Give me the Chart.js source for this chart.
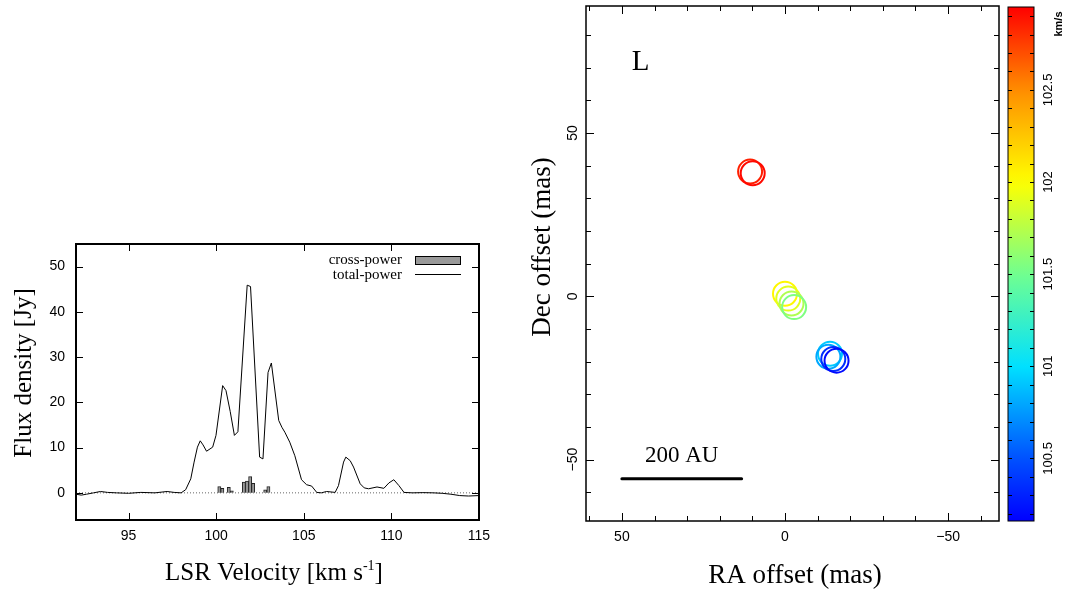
<!DOCTYPE html>
<html><head><meta charset="utf-8">
<script src="https://cdn.jsdelivr.net/npm/chart.js@4.4.0/dist/chart.umd.min.js"></script>
<style>
html,body{margin:0;padding:0;background:#fff;}
body{width:1068px;height:593px;position:relative;overflow:hidden;}
.box{position:absolute;}
canvas{display:block;}
</style></head><body>
<div class="box" style="left:0;top:236px;width:495px;height:357px"><canvas id="spec" width="495" height="357"></canvas></div>
<div class="box" style="left:500px;top:0;width:504px;height:593px"><canvas id="map" width="504" height="593"></canvas></div>
<div class="box" style="left:1000px;top:0;width:68px;height:593px"><canvas id="cbar" width="68" height="593"></canvas></div>
<script>
// ---------- Left panel: spectrum ----------
const totalVelocity = [92.0, 92.3, 92.6, 93.0, 93.4, 93.8, 94.3, 95.0, 95.7, 96.5, 97.2, 97.6, 98.0,
  98.26, 98.55, 98.74, 98.93, 99.09, 99.25, 99.45, 99.8, 99.99, 100.37, 100.56, 100.8, 101.04, 101.24,
  101.77, 101.96, 102.48, 102.67, 102.96, 103.15, 103.57, 103.75, 103.92, 104.2, 104.49, 104.87, 105.16,
  105.45, 105.74, 106.0, 106.3, 106.79, 106.98, 107.27, 107.4, 107.65, 107.84, 108.22, 108.45, 108.7,
  109.18, 109.57, 109.86, 110.14, 110.43, 110.72, 111.2, 111.8, 112.4, 112.9, 113.4, 113.9, 114.4, 115.0];
const totalFlux = [-0.3, -0.5, -0.3, 0.0, 0.3, 0.1, 0.0, -0.1, 0.1, 0.0, 0.3, 0.1, 0.0,
  0.7, 3.1, 6.8, 10.1, 11.5, 10.6, 9.2, 10.1, 12.7, 23.7, 22.6, 18.0, 12.7, 13.5,
  45.9, 45.6, 7.9, 7.5, 26.6, 28.7, 16.0, 14.5, 13.4, 11.2, 8.2, 2.9, 1.8,
  1.5, 0.1, 0.0, 0.3, 0.1, 1.6, 6.8, 7.9, 7.1, 5.7, 2.0, 1.1, 0.9,
  1.3, 1.0, 2.2, 2.9, 1.6, 0.1, 0.0, 0.05, 0.0, -0.1, -0.3, -0.6, -0.7, -0.6];
const crossVelocity = [100.18, 100.35, 100.72, 100.89, 101.58, 101.76, 101.94, 102.11, 102.80, 102.98];
const crossFlux = [1.4, 1.0, 1.2, 0.45, 2.4, 2.6, 3.6, 2.1, 0.65, 1.4];
const specXTicks = [95, 100, 105, 110, 115];
const specYTicks = [0, 10, 20, 30, 40, 50];
const specXRange = [92, 115];
const specYRange = [-6, 55];
const specLegend = ['cross-power', 'total-power'];

// ---------- Right panel: maser spot map ----------
const spotRA = [10.7, 9.9, 0.0, -1.0, -2.0, -2.8, -13.8, -13.3, -14.8, -15.8];
const spotDec = [38.2, 37.7, 0.8, -0.7, -2.2, -3.3, -17.6, -18.5, -19.2, -19.7];
const spotVelocity = [102.85, 102.92, 102.03, 101.9, 101.72, 101.55, 100.92, 100.8, 100.35, 100.2];
const mapXTicks = [-50, 0, 50];
const mapYTicks = [-50, 0, 50];
const mapXRange = [-65.6, 61];
const mapYRange = [-68.8, 88.9];
const scaleBarRA = [50, 13.3];
const scaleBarDec = [-55.9, -55.9];
const scaleBarLabel = '200 AU';
const panelLabel = 'L';
const cbarTicks = [100.5, 101, 101.5, 102, 102.5];
const cbarRange = [100.16, 102.95];
const cbarUnit = 'km/s';

// ---------- helpers ----------
const SERIF = '"Liberation Serif", "Times New Roman", serif';
const SANS = '"Liberation Sans", Arial, sans-serif';
const cmapStops = [[0, [0, 0, 255]], [0.12, [0, 80, 255]], [0.30, [0, 224, 255]], [0.48, [112, 255, 144]],
  [0.66, [255, 255, 0]], [0.84, [255, 140, 0]], [1, [255, 0, 0]]];
function cmap(v) {
  let t = (v - cbarRange[0]) / (cbarRange[1] - cbarRange[0]);
  t = Math.max(0, Math.min(1, t));
  for (let i = 1; i < cmapStops.length; i++) {
    const [t1, c1] = cmapStops[i];
    const [t0, c0] = cmapStops[i - 1];
    if (t <= t1) {
      const f = (t - t0) / (t1 - t0);
      const c = c0.map((x, k) => Math.round(x + (c1[k] - x) * f));
      return `rgb(${c[0]},${c[1]},${c[2]})`;
    }
  }
  return 'rgb(255,0,0)';
}
const fmt = v => String(v).replace('-', '\u2212');
const setTicks = arr => s => { s.ticks = arr.map(v => ({ value: v })); };
const fitX = h => s => { s.height = h; s.paddingLeft = 0; s.paddingRight = 0; s.paddingTop = 0; s.paddingBottom = 0; };
const fitY = w => s => { s.width = w; s.paddingLeft = 0; s.paddingRight = 0; s.paddingTop = 0; s.paddingBottom = 0; };
function line(ctx, x1, y1, x2, y2) { ctx.beginPath(); ctx.moveTo(x1, y1); ctx.lineTo(x2, y2); ctx.stroke(); }
function inwardTicks(chart, xs, ys) {
  const { ctx, chartArea: a, scales } = chart;
  ctx.save(); ctx.strokeStyle = '#000'; ctx.lineWidth = 1;
  xs.forEach(([v, len]) => {
    const p = Math.round(scales.x.getPixelForValue(v)) + 0.5;
    line(ctx, p, a.bottom, p, a.bottom - len); line(ctx, p, a.top, p, a.top + len);
  });
  ys.forEach(([v, len]) => {
    const p = Math.round(scales.y.getPixelForValue(v)) + 0.5;
    line(ctx, a.left, p, a.left + len, p); line(ctx, a.right, p, a.right - len, p);
  });
  ctx.restore();
}
function frame(chart, w) {
  const { ctx, chartArea: a } = chart;
  ctx.save(); ctx.strokeStyle = '#000'; ctx.lineWidth = w;
  ctx.strokeRect(a.left, a.top, a.right - a.left, a.bottom - a.top);
  ctx.restore();
}
function rotText(ctx, text, x, y, font) {
  ctx.save(); ctx.translate(x, y); ctx.rotate(-Math.PI / 2);
  ctx.font = font; ctx.textAlign = 'center'; ctx.textBaseline = 'alphabetic'; ctx.fillStyle = '#000';
  ctx.fillText(text, 0, 0); ctx.restore();
}
const commonOpts = { responsive: false, animation: false, events: [],
  plugins: { legend: { display: false }, tooltip: { enabled: false } } };

// ---------- spectrum chart ----------
const specPlugin = {
  id: 'specDeco',
  afterDraw(chart) {
    const { ctx } = chart;
    inwardTicks(chart, specXTicks.map(v => [v, 7]), specYTicks.map(v => [v, 7]));
    frame(chart, 2);
    // legend
    ctx.save();
    ctx.font = '15px ' + SERIF; ctx.fillStyle = '#000'; ctx.textAlign = 'right'; ctx.textBaseline = 'middle';
    ctx.fillText(specLegend[0], 402, 24.5);
    ctx.fillText(specLegend[1], 402, 39.5);
    ctx.fillStyle = '#999'; ctx.fillRect(415.5, 20.5, 45, 8);
    ctx.strokeStyle = '#000'; ctx.lineWidth = 1; ctx.strokeRect(415.5, 20.5, 45, 8);
    line(ctx, 415, 38.5, 461, 38.5);
    // axis titles
    rotText(ctx, 'Flux density [Jy]', 31, 137, '25px ' + SERIF);
    const y = 344;
    const main = 'LSR Velocity [km s', sup = '-1', end = ']';
    ctx.font = '25px ' + SERIF; const w1 = ctx.measureText(main).width, w3 = ctx.measureText(end).width;
    ctx.font = '14px ' + SERIF; const w2 = ctx.measureText(sup).width;
    let x = 274 - (w1 + w2 + w3) / 2;
    ctx.textAlign = 'left'; ctx.textBaseline = 'alphabetic'; ctx.fillStyle = '#000';
    ctx.font = '25px ' + SERIF; ctx.fillText(main, x, y); x += w1;
    ctx.font = '14px ' + SERIF; ctx.fillText(sup, x, y - 10); x += w2;
    ctx.font = '25px ' + SERIF; ctx.fillText(end, x, y);
    ctx.restore();
  }
};
new Chart(document.getElementById('spec'), {
  type: 'scatter',
  data: { datasets: [
    { type: 'line', data: totalVelocity.map((v, i) => ({ x: v, y: totalFlux[i] })), borderColor: '#000',
      borderWidth: 1, pointRadius: 0, tension: 0, fill: false, order: 0 },
    { type: 'bar', data: crossVelocity.map((v, i) => ({ x: v, y: crossFlux[i] })), backgroundColor: '#999',
      borderColor: '#222', borderWidth: 1, barThickness: 3.2, order: 1 },
    { type: 'line', data: specXRange.map(v => ({ x: v, y: 0 })), borderColor: '#666', borderWidth: 1,
      borderDash: [1, 2], pointRadius: 0, order: 2 }
  ] },
  options: Object.assign({}, commonOpts, {
    layout: { autoPadding: false, padding: { left: 0, right: 16, top: 8, bottom: 0 } },
    scales: {
      x: { type: 'linear', offset: false, min: specXRange[0], max: specXRange[1], afterBuildTicks: setTicks(specXTicks),
        afterFit: fitX(73), grid: { display: false, drawTicks: false, offset: false }, border: { display: false },
        ticks: { font: { family: SANS, size: 14 }, color: '#000', padding: 8, maxRotation: 0, callback: fmt } },
      y: { type: 'linear', min: specYRange[0], max: specYRange[1], afterBuildTicks: setTicks(specYTicks),
        afterFit: fitY(76), grid: { display: false, drawTicks: false }, border: { display: false },
        ticks: { font: { family: SANS, size: 14 }, color: '#000', padding: 11, callback: fmt } }
    }
  }),
  plugins: [specPlugin]
});

// ---------- map chart ----------
const minorRange = (lo, hi) => { const out = []; for (let v = Math.ceil(lo / 10) * 10; v <= hi; v += 10) out.push(v); return out; };
const mapPlugin = {
  id: 'mapDeco',
  afterDraw(chart) {
    const { ctx, scales } = chart;
    const tk = v => [v, v % 50 === 0 ? 8 : 5];
    inwardTicks(chart, minorRange(mapXRange[0], mapXRange[1]).map(tk), minorRange(mapYRange[0], mapYRange[1]).map(tk));
    frame(chart, 1.5);
    ctx.save(); ctx.fillStyle = '#000'; ctx.textBaseline = 'alphabetic';
    ctx.font = '29px ' + SERIF; ctx.textAlign = 'left';
    ctx.fillText(panelLabel, scales.x.getPixelForValue(47.0), scales.y.getPixelForValue(69.4));
    ctx.font = '23px ' + SERIF; ctx.textAlign = 'center';
    ctx.fillText(scaleBarLabel, scales.x.getPixelForValue((scaleBarRA[0] + scaleBarRA[1]) / 2), scales.y.getPixelForValue(-50.6));
    rotText(ctx, 'Dec offset (mas)', 50, 247, '27px ' + SERIF);
    ctx.font = '27px ' + SERIF; ctx.textAlign = 'center';
    ctx.fillText('RA offset (mas)', 295, 583);
    ctx.restore();
  }
};
new Chart(document.getElementById('map'), {
  type: 'scatter',
  data: { datasets: [
    { data: spotRA.map((v, i) => ({ x: v, y: spotDec[i] })), pointStyle: 'circle', pointRadius: 12,
      pointBorderWidth: 2, pointBackgroundColor: 'rgba(0,0,0,0)', pointBorderColor: spotVelocity.map(cmap) },
    { type: 'line', data: scaleBarRA.map((v, i) => ({ x: v, y: scaleBarDec[i] })), borderColor: '#000',
      borderWidth: 3, pointRadius: 0, borderCapStyle: 'round' }
  ] },
  options: Object.assign({}, commonOpts, {
    layout: { autoPadding: false, padding: { left: 0, right: 5, top: 6, bottom: 0 } },
    scales: {
      x: { type: 'linear', reverse: true, min: mapXRange[0], max: mapXRange[1], afterBuildTicks: setTicks(mapXTicks),
        afterFit: fitX(72), grid: { display: false, drawTicks: false }, border: { display: false },
        ticks: { font: { family: SANS, size: 14 }, color: '#000', padding: 8, maxRotation: 0, callback: fmt } },
      y: { type: 'linear', min: mapYRange[0], max: mapYRange[1], afterBuildTicks: setTicks(mapYTicks),
        afterFit: fitY(86), grid: { display: false, drawTicks: false }, border: { display: false },
        ticks: { font: { family: SANS, size: 14 }, color: '#000', padding: 1, minRotation: 90, maxRotation: 90,
          crossAlign: 'center', callback: fmt } }
    }
  }),
  plugins: [mapPlugin]
});

// ---------- colour bar ----------
const cbarPlugin = {
  id: 'cbarDeco',
  afterDraw(chart) {
    const { ctx, chartArea: a, scales } = chart;
    ctx.save(); ctx.strokeStyle = '#000'; ctx.lineWidth = 1;
    for (let k = Math.ceil(cbarRange[0] * 10); k <= Math.floor(cbarRange[1] * 10); k++) {
      const p = Math.round(scales.y.getPixelForValue(k / 10)) + 0.5;
      line(ctx, a.left, p, a.left + 4, p); line(ctx, a.right, p, a.right - 4, p);
    }
    ctx.restore();
    frame(chart, 1);
    ctx.save(); ctx.font = 'bold 11px ' + SANS; ctx.fillStyle = '#000';
    ctx.translate(62, 24); ctx.rotate(-Math.PI / 2); ctx.textAlign = 'center'; ctx.textBaseline = 'alphabetic';
    ctx.fillText(cbarUnit, 0, 0); ctx.restore();
  }
};
new Chart(document.getElementById('cbar'), {
  type: 'bar',
  data: { labels: [''], datasets: [{ data: [cbarRange], borderWidth: 0, barPercentage: 1, categoryPercentage: 1,
    backgroundColor: (c) => {
      const ch = c.chart; if (!ch.chartArea) return '#888';
      const y = ch.scales.y, y0 = y.getPixelForValue(cbarRange[0]), y1 = y.getPixelForValue(cbarRange[1]);
      const g = ch.ctx.createLinearGradient(0, y0, 0, y1);
      for (let i = 0; i <= 40; i++) { const v = cbarRange[0] + (cbarRange[1] - cbarRange[0]) * i / 40; g.addColorStop(i / 40, cmap(v)); }
      return g;
    } }] },
  options: Object.assign({}, commonOpts, {
    layout: { autoPadding: false, padding: { left: 8, right: 0, top: 7, bottom: 72 } },
    scales: {
      x: { display: false },
      y: { type: 'linear', position: 'right', min: cbarRange[0], max: cbarRange[1], afterBuildTicks: setTicks(cbarTicks),
        afterFit: fitY(34), grid: { display: false, drawTicks: false }, border: { display: false },
        ticks: { font: { family: SANS, size: 13 }, color: '#000', padding: -2, minRotation: 90, maxRotation: 90,
          crossAlign: 'center', callback: v => String(v) } }
    }
  }),
  plugins: [cbarPlugin]
});
</script>
</body></html>
